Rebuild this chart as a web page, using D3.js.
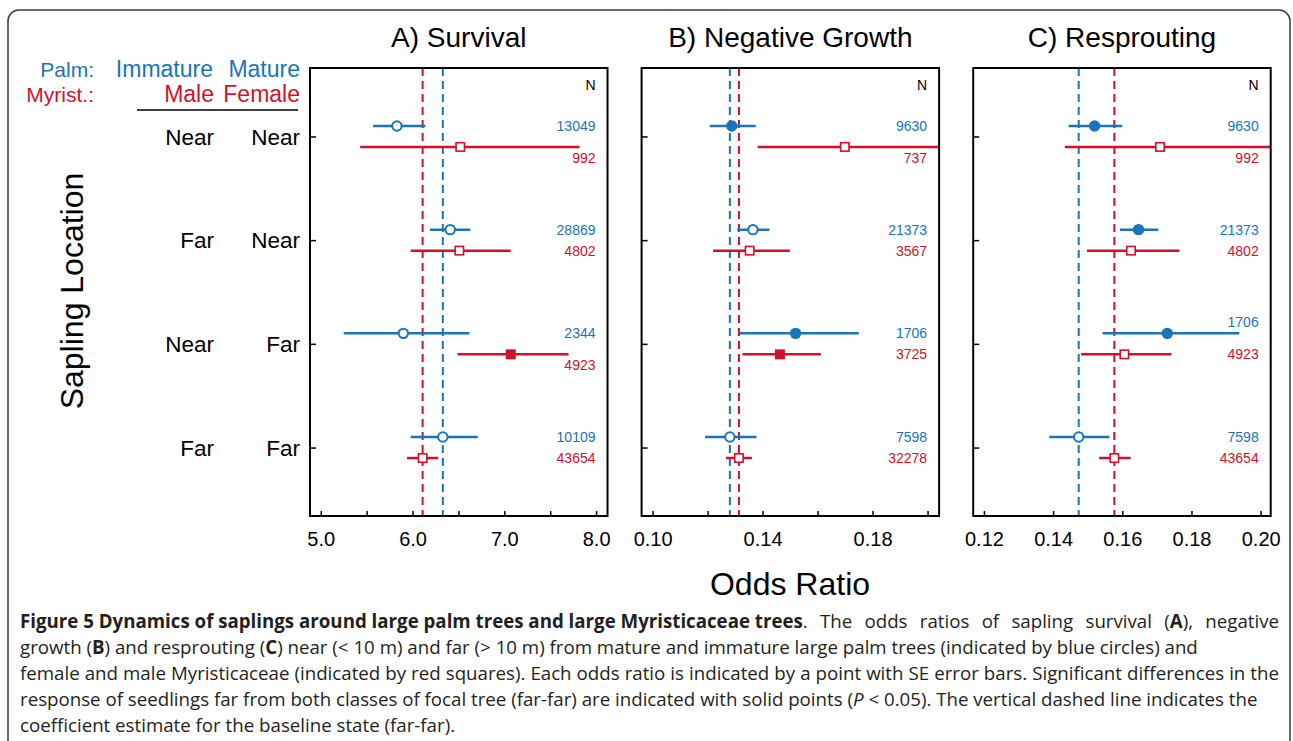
<!DOCTYPE html>
<html>
<head>
<meta charset="utf-8">
<script src="https://cdn.jsdelivr.net/npm/d3@7"></script>
<style>
  html, body { margin: 0; padding: 0; background: #fff; }
  svg { display: block; }
  text { font-family: "Liberation Sans", Arial, sans-serif; }
  .caption text { font-family: "Open Sans", "Noto Sans", sans-serif; }
</style>
</head>
<body>
<script>

// row categories (sapling location relative to palm / myristicaceae)
var palmLocation = ["Near", "Far", "Near", "Far"];
var myristLocation = ["Near", "Near", "Far", "Far"];

var panelTitles = ["A) Survival", "B) Negative Growth", "C) Resprouting"];

// [odds ratio, lower SE, upper SE]
var survivalPalm = [[5.83, 5.57, 6.14], [6.41, 6.19, 6.63], [5.90, 5.25, 6.62], [6.33, 5.98, 6.71]];
var survivalMyrist = [[6.52, 5.43, 7.82], [6.51, 5.98, 7.07], [7.07, 6.49, 7.70], [6.11, 5.94, 6.28]];
var survivalPalmN = [13049, 28869, 2344, 10109];
var survivalMyristN = [992, 4802, 4923, 43654];
var survivalPalmSig = [false, false, false, false];
var survivalMyristSig = [false, false, true, false];

var growthPalm = [[0.1288, 0.1208, 0.1375], [0.1365, 0.1308, 0.1425], [0.1520, 0.1315, 0.1750], [0.1281, 0.1191, 0.1378]];
var growthMyrist = [[0.1699, 0.1382, 0.2150], [0.1353, 0.1220, 0.1499], [0.1463, 0.1327, 0.1612], [0.1314, 0.1267, 0.1361]];
var growthPalmN = [9630, 21373, 1706, 7598];
var growthMyristN = [737, 3567, 3725, 32278];
var growthPalmSig = [true, false, true, false];
var growthMyristSig = [false, false, true, false];

var resproutPalm = [[0.1520, 0.1445, 0.1600], [0.1647, 0.1593, 0.1704], [0.1730, 0.1543, 0.1938], [0.1474, 0.1389, 0.1563]];
var resproutMyrist = [[0.1709, 0.1434, 0.2150], [0.1625, 0.1498, 0.1765], [0.1606, 0.1481, 0.1742], [0.1577, 0.1533, 0.1624]];
var resproutPalmN = [9630, 21373, 1706, 7598];
var resproutMyristN = [992, 4802, 4923, 43654];
var resproutPalmSig = [true, true, true, false];
var resproutMyristSig = [false, false, false, false];

// x axis ranges and ticks
var survivalDomain = [4.883, 8.124];
var growthDomain = [0.096, 0.2042];
var resproutDomain = [0.1169, 0.2029];
var survivalTicks = [5.0, 5.5, 6.0, 6.5, 7.0, 7.5, 8.0];
var survivalTickLabels = [5.0, 6.0, 7.0, 8.0];
var growthTicks = [0.10, 0.12, 0.14, 0.16, 0.18, 0.20];
var growthTickLabels = [0.10, 0.14, 0.18];
var resproutTicks = [0.12, 0.14, 0.16, 0.18, 0.20];
var resproutTickLabels = [0.12, 0.14, 0.16, 0.18, 0.20];

var blue = "#1a74b8";
var red = "#d1112c";

var panels = [
    { title: panelTitles[0], domain: survivalDomain, ticks: survivalTicks, labels: survivalTickLabels, fmt: ".1f",
      palm: survivalPalm, myr: survivalMyrist, palmN: survivalPalmN, myrN: survivalMyristN, palmSig: survivalPalmSig, myrSig: survivalMyristSig },
    { title: panelTitles[1], domain: growthDomain, ticks: growthTicks, labels: growthTickLabels, fmt: ".2f",
      palm: growthPalm, myr: growthMyrist, palmN: growthPalmN, myrN: growthMyristN, palmSig: growthPalmSig, myrSig: growthMyristSig },
    { title: panelTitles[2], domain: resproutDomain, ticks: resproutTicks, labels: resproutTickLabels, fmt: ".2f",
      palm: resproutPalm, myr: resproutMyrist, palmN: resproutPalmN, myrN: resproutMyristN, palmSig: resproutPalmSig, myrSig: resproutMyristSig }
];

var W = 1293, H = 741;
var plotTop = 68, plotBottom = 516;
var panelW = 297.5;
var panelLeft0 = 310, panelStep = 331.6;
var offset = 10.5;   // blue above, red below the row tick

var svg = d3.select('body').append('svg')
    .attr('width', W)
    .attr('height', H);

// outer figure frame
svg.append('rect')
    .attr('x', 8).attr('y', 10)
    .attr('width', 1282).attr('height', 780)
    .attr('rx', 11)
    .attr('fill', 'none')
    .attr('stroke', '#3a3a3a')
    .attr('stroke-width', 1.5);

var rowIdx = d3.range(palmLocation.length);
var y = d3.scalePoint()
    .domain(rowIdx)
    .range([plotTop, plotBottom])
    .padding(0.66);

// left side labels
svg.append('text').attr('x', 94).attr('y', 77).attr('text-anchor', 'end')
    .style('font-size', '21px').attr('fill', blue).text('Palm:');
svg.append('text').attr('x', 213).attr('y', 77).attr('text-anchor', 'end')
    .style('font-size', '23px').attr('fill', blue).text('Immature');
svg.append('text').attr('x', 300).attr('y', 77).attr('text-anchor', 'end')
    .style('font-size', '23px').attr('fill', blue).text('Mature');
svg.append('text').attr('x', 94).attr('y', 102).attr('text-anchor', 'end')
    .style('font-size', '21px').attr('fill', red).text('Myrist.:');
svg.append('text').attr('x', 214).attr('y', 102).attr('text-anchor', 'end')
    .style('font-size', '23px').attr('fill', red).text('Male');
svg.append('text').attr('x', 300).attr('y', 102).attr('text-anchor', 'end')
    .style('font-size', '23px').attr('fill', red).text('Female');
svg.append('line').attr('x1', 137).attr('x2', 298).attr('y1', 110).attr('y2', 110)
    .attr('stroke', '#000').attr('stroke-width', 1.5);

rowIdx.forEach(function(i) {
    svg.append('text').attr('x', 214).attr('y', y(i)).attr('dy', '0.36em')
        .attr('text-anchor', 'end').style('font-size', '22.5px').text(palmLocation[i]);
    svg.append('text').attr('x', 300).attr('y', y(i)).attr('dy', '0.36em')
        .attr('text-anchor', 'end').style('font-size', '22.5px').text(myristLocation[i]);
});

svg.append('text')
    .attr('transform', 'translate(83, 291) rotate(-90)')
    .attr('text-anchor', 'middle')
    .style('font-size', '32px')
    .text('Sapling Location');

svg.append('text')
    .attr('x', 790).attr('y', 595)
    .attr('text-anchor', 'middle')
    .style('font-size', '32px')
    .text('Odds Ratio');

panels.forEach(function(p, k) {
    var left = panelLeft0 + k * panelStep;
    var x = d3.scaleLinear().domain(p.domain).range([0, panelW]);
    var g = svg.append('g').attr('transform', 'translate(' + left + ',0)');

    g.append('defs').append('clipPath').attr('id', 'clip' + k)
        .append('rect').attr('x', 0).attr('y', plotTop).attr('width', panelW).attr('height', plotBottom - plotTop);

    g.append('text')
        .attr('x', panelW / 2).attr('y', 47)
        .attr('text-anchor', 'middle')
        .style('font-size', '28px')
        .text(p.title);

    var f = d3.format(p.fmt);
    var xAxis = d3.axisBottom(x)
        .tickValues(p.ticks)
        .tickSizeInner(-5).tickSizeOuter(0)
        .tickPadding(16)
        .tickFormat(function(d) {
            return p.labels.some(function(l) { return Math.abs(l - d) < 1e-9; }) ? f(d) : '';
        });
    var xg = g.append('g').attr('transform', 'translate(0,' + plotBottom + ')').call(xAxis);
    xg.select('.domain').remove();
    xg.selectAll('line').attr('stroke-width', 1.5);
    xg.selectAll('text').style('font-size', '20px').attr('fill', '#000')
        .style('font-family', '"Liberation Sans", Arial, sans-serif');

    var yAxis = d3.axisLeft(y).tickSizeInner(-6).tickSizeOuter(0).tickFormat('');
    var yg = g.append('g').call(yAxis);
    yg.select('.domain').remove();
    yg.selectAll('line').attr('stroke-width', 1.5);

    // baseline state (far-far) dashed lines
    var base = rowIdx[rowIdx.length - 1];
    g.append('line')
        .attr('x1', x(p.myr[base][0])).attr('x2', x(p.myr[base][0]))
        .attr('y1', plotTop).attr('y2', plotBottom)
        .attr('stroke', red).attr('stroke-width', 2).attr('stroke-dasharray', '8,5');
    g.append('line')
        .attr('x1', x(p.palm[base][0])).attr('x2', x(p.palm[base][0]))
        .attr('y1', plotTop).attr('y2', plotBottom)
        .attr('stroke', blue).attr('stroke-width', 2).attr('stroke-dasharray', '8,5');

    var marks = g.append('g').attr('clip-path', 'url(#clip' + k + ')');

    g.append('text')
        .attr('x', panelW - 12).attr('y', 90)
        .attr('text-anchor', 'end')
        .style('font-size', '14px')
        .text('N');

    rowIdx.forEach(function(i) {
        var yb = y(i) - offset, yr = y(i) + offset;

        // palm: circles
        marks.append('line')
            .attr('x1', x(p.palm[i][1])).attr('x2', x(p.palm[i][2]))
            .attr('y1', yb).attr('y2', yb)
            .attr('stroke', blue).attr('stroke-width', 2.5);
        marks.append('circle')
            .attr('cx', x(p.palm[i][0])).attr('cy', yb)
            .attr('r', p.palmSig[i] ? 5.7 : 4.7)
            .attr('fill', p.palmSig[i] ? blue : '#fff')
            .attr('stroke', blue).attr('stroke-width', p.palmSig[i] ? 0 : 2);

        // myristicaceae: squares
        marks.append('line')
            .attr('x1', x(p.myr[i][1])).attr('x2', x(p.myr[i][2]))
            .attr('y1', yr).attr('y2', yr)
            .attr('stroke', red).attr('stroke-width', 2.5);
        var s = p.myrSig[i] ? 10 : 8.4;
        marks.append('rect')
            .attr('x', x(p.myr[i][0]) - s / 2).attr('y', yr - s / 2)
            .attr('width', s).attr('height', s)
            .attr('fill', p.myrSig[i] ? red : '#fff')
            .attr('stroke', red).attr('stroke-width', p.myrSig[i] ? 0 : 1.6);

        // sample sizes, moved off the error bar when they would collide
        var tb = g.append('text')
            .attr('x', panelW - 12).attr('y', yb).attr('dy', '0.35em')
            .attr('text-anchor', 'end').style('font-size', '14px')
            .attr('fill', blue).text(p.palmN[i]);
        if (Math.min(x(p.palm[i][2]), panelW) > panelW - 12 - tb.node().getComputedTextLength() - 4) {
            tb.attr('y', yb - 11);
        }
        var tr = g.append('text')
            .attr('x', panelW - 12).attr('y', yr).attr('dy', '0.35em')
            .attr('text-anchor', 'end').style('font-size', '14px')
            .attr('fill', red).text(p.myrN[i]);
        if (Math.min(x(p.myr[i][2]), panelW) > panelW - 12 - tr.node().getComputedTextLength() - 4) {
            tr.attr('y', yr + 11);
        }
    });

    // plot frame
    g.append('rect')
        .attr('x', 0).attr('y', plotTop)
        .attr('width', panelW).attr('height', plotBottom - plotTop)
        .attr('fill', 'none').attr('stroke', '#000').attr('stroke-width', 2);
});

// caption, lines as broken in the figure; second element = justify to the right margin
var captionLines = [
    [[["Figure 5 Dynamics of saplings around large palm trees and large Myristicaceae trees", "b"], [". The odds ratios of sapling survival (", ""], ["A", "b"], ["), negative", ""]], true],
    [[["growth (", ""], ["B", "b"], [") and resprouting (", ""], ["C", "b"], [") near (< 10 m) and far (> 10 m) from mature and immature large palm trees (indicated by blue circles) and", ""]], false],
    [[["female and male Myristicaceae (indicated by red squares). Each odds ratio is indicated by a point with SE error bars. Significant differences in the", ""]], true],
    [[["response of seedlings far from both classes of focal tree (far-far) are indicated with solid points (", ""], ["P", "i"], [" < 0.05). The vertical dashed line indicates the", ""]], false],
    [[["coefficient estimate for the baseline state (far-far).", ""]], false]
];
var capLeft = 20, capRight = 1279;
var cap = svg.append('g').attr('class', 'caption');
captionLines.forEach(function(line, li) {
    var t = cap.append('text')
        .attr('x', capLeft).attr('y', 628 + li * 26)
        .style('font-size', '18.7px')
        .attr('fill', '#231f20');
    var spaces = 0;
    line[0].forEach(function(seg) {
        if (seg[1] !== 'b') spaces += seg[0].split(' ').length - 1;
        t.append('tspan')
            .attr('class', seg[1] === 'b' ? 'bold' : 'plain')
            .style('font-weight', seg[1] === 'b' ? 'bold' : 'normal')
            .style('font-style', seg[1] === 'i' ? 'italic' : 'normal')
            .text(seg[0]);
    });
    if (line[1]) {
        // spread the normal-weight words so the line reaches the right margin
        var extra = (capRight - capLeft - t.node().getComputedTextLength()) / spaces;
        if (extra > 0) t.selectAll('tspan.plain').style('word-spacing', extra + 'px');
    }
});

</script>
</body>
</html>
